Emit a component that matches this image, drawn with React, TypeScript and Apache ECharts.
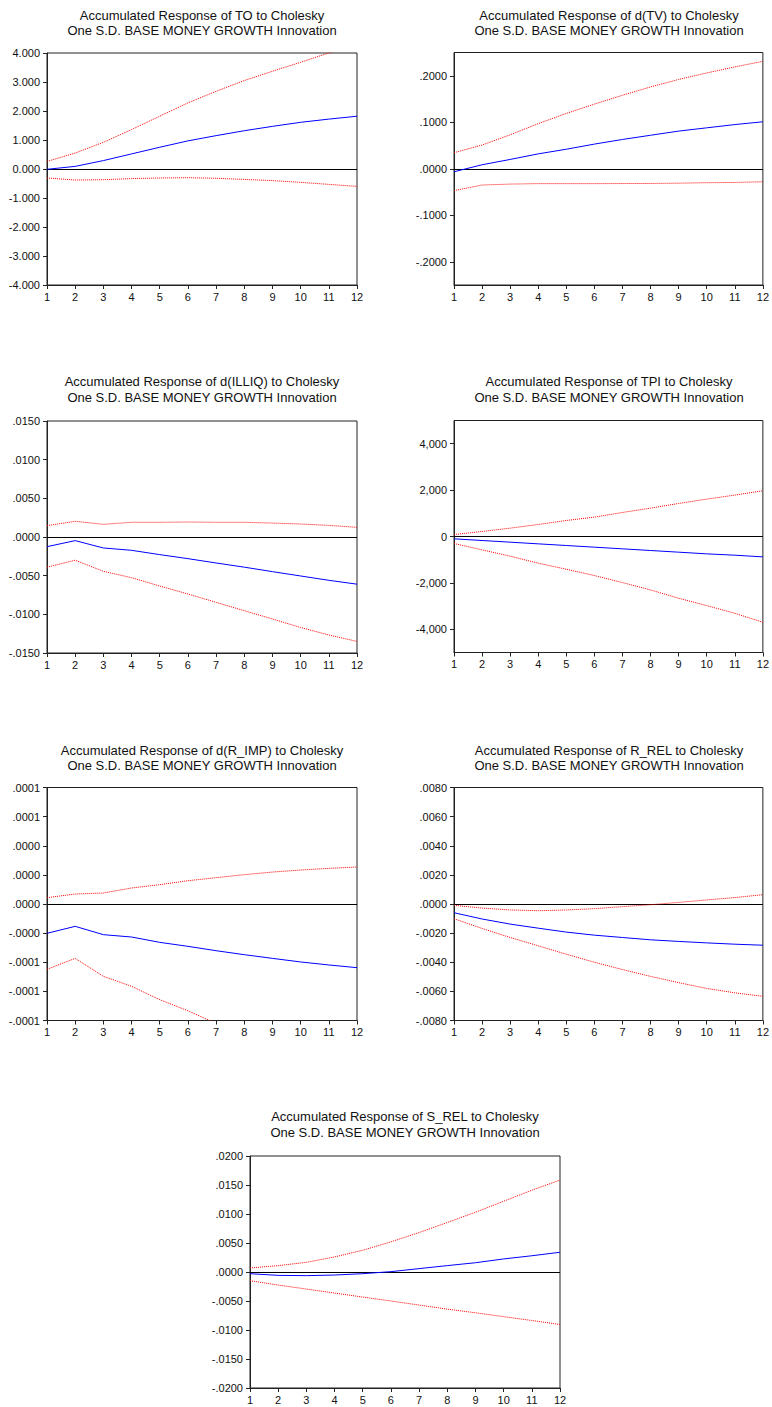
import React, { useEffect, useRef } from "react";
import * as echarts from "echarts";

const periods = [1, 2, 3, 4, 5, 6, 7, 8, 9, 10, 11, 12];

const titles = [
  "Accumulated Response of TO to Cholesky\nOne S.D. BASE MONEY GROWTH Innovation",
  "Accumulated Response of d(TV) to Cholesky\nOne S.D. BASE MONEY GROWTH Innovation",
  "Accumulated Response of d(ILLIQ) to Cholesky\nOne S.D. BASE MONEY GROWTH Innovation",
  "Accumulated Response of TPI to Cholesky\nOne S.D. BASE MONEY GROWTH Innovation",
  "Accumulated Response of d(R_IMP) to Cholesky\nOne S.D. BASE MONEY GROWTH Innovation",
  "Accumulated Response of R_REL to Cholesky\nOne S.D. BASE MONEY GROWTH Innovation",
  "Accumulated Response of S_REL to Cholesky\nOne S.D. BASE MONEY GROWTH Innovation",
];

// Panel 1: TO
const toResp = [-0.01, 0.09, 0.29, 0.52, 0.75, 0.97, 1.15, 1.32, 1.47, 1.61, 1.72, 1.82];
const toUpper = [0.26, 0.55, 0.92, 1.36, 1.82, 2.28, 2.68, 3.05, 3.37, 3.68, 4.0, 4.28];
const toLower = [-0.31, -0.38, -0.37, -0.33, -0.31, -0.3, -0.32, -0.36, -0.4, -0.46, -0.53, -0.6];
const toTicks = [-4, -3, -2, -1, 0, 1, 2, 3, 4];
const toLabels = ["-4.000", "-3.000", "-2.000", "-1.000", "0.000", "1.000", "2.000", "3.000", "4.000"];

// Panel 2: d(TV)
const tvResp = [-0.0065, 0.0086, 0.02, 0.032, 0.042, 0.053, 0.063, 0.072, 0.081, 0.088, 0.095, 0.101];
const tvUpper = [0.0345, 0.051, 0.073, 0.097, 0.119, 0.139, 0.158, 0.176, 0.192, 0.206, 0.219, 0.231];
const tvLower = [-0.047, -0.035, -0.033, -0.032, -0.032, -0.032, -0.0318, -0.0317, -0.031, -0.03, -0.0295, -0.028];
const tvTicks = [-0.2, -0.1, 0, 0.1, 0.2];
const tvLabels = ["-.2000", "-.1000", ".0000", ".1000", ".2000"];

// Panel 3: d(ILLIQ)
const illiqResp = [-0.00125, -0.00047, -0.00142, -0.00172, -0.00228, -0.0028, -0.00336, -0.0039, -0.00448, -0.00504, -0.0056, -0.0061];
const illiqUpper = [0.00147, 0.00203, 0.00164, 0.0019, 0.0019, 0.00194, 0.0019, 0.0019, 0.0018, 0.00168, 0.0015, 0.00125];
const illiqLower = [-0.0039, -0.003, -0.00444, -0.00526, -0.00634, -0.00737, -0.00845, -0.00953, -0.0106, -0.0117, -0.01267, -0.0135];
const illiqTicks = [-0.015, -0.01, -0.005, 0, 0.005, 0.01, 0.015];
const illiqLabels = ["-.0150", "-.0100", "-.0050", ".0000", ".0050", ".0100", ".0150"];

// Panel 4: TPI
const tpiResp = [-100, -173, -245, -317, -388, -460, -532, -604, -676, -748, -806, -878];
const tpiUpper = [86, 216, 360, 518, 690, 835, 1036, 1223, 1424, 1611, 1784, 1971];
const tpiLower = [-302, -575, -849, -1151, -1410, -1683, -1986, -2302, -2662, -2978, -3309, -3698];
const tpiTicks = [-4000, -2000, 0, 2000, 4000];
const tpiLabels = ["-4,000", "-2,000", "0", "2,000", "4,000"];

// Panel 5: d(R_IMP)
const rimpResp = [-0.0000302, -0.000023, -0.0000316, -0.000034, -0.0000395, -0.0000436, -0.0000481, -0.0000522, -0.000056, -0.0000597, -0.0000628, -0.0000656];
const rimpUpper = [0.0000065, 0.0000103, 0.0000113, 0.0000165, 0.0000199, 0.000024, 0.0000271, 0.0000302, 0.0000329, 0.000035, 0.0000367, 0.0000381];
const rimpLower = [-0.0000673, -0.000056, -0.0000745, -0.0000848, -0.0000985, -0.00011, -0.000123, -0.000136, -0.000147, -0.000159, -0.000168, -0.00018];
const rimpTicks = [-0.00012, -0.00009, -0.00006, -0.00003, 0, 0.00003, 0.00006, 0.00009, 0.00012];
const rimpLabels = ["-.0001", "-.0001", "-.0001", "-.0000", ".0000", ".0000", ".0000", ".0001", ".0001"];

// Panel 6: R_REL
const rrelResp = [-0.0006, -0.00103, -0.00138, -0.00166, -0.00193, -0.00214, -0.0023, -0.00246, -0.00257, -0.00267, -0.00276, -0.00283];
const rrelUpper = [-0.00009, -0.00028, -0.00041, -0.00046, -0.00041, -0.00032, -0.00018, -0.00005, 0.00011, 0.00028, 0.00044, 0.00064];
const rrelLower = [-0.00101, -0.00168, -0.0023, -0.00287, -0.00345, -0.004, -0.0045, -0.00497, -0.0054, -0.0058, -0.0061, -0.00634];
const rrelTicks = [-0.008, -0.006, -0.004, -0.002, 0, 0.002, 0.004, 0.006, 0.008];
const rrelLabels = ["-.0080", "-.0060", "-.0040", "-.0020", ".0000", ".0020", ".0040", ".0060", ".0080"];

// Panel 7: S_REL
const srelResp = [-0.00029, -0.00058, -0.00063, -0.00052, -0.00029, 0.00006, 0.00058, 0.0011, 0.0016, 0.00225, 0.0028, 0.0034];
const srelUpper = [0.00069, 0.0011, 0.00167, 0.0026, 0.00375, 0.0052, 0.0068, 0.00853, 0.0103, 0.0122, 0.0141, 0.01585];
const srelLower = [-0.0015, -0.00225, -0.00294, -0.00363, -0.00432, -0.005, -0.0057, -0.0064, -0.00703, -0.0077, -0.00836, -0.00905];
const srelTicks = [-0.02, -0.015, -0.01, -0.005, 0, 0.005, 0.01, 0.015, 0.02];
const srelLabels = ["-.0200", "-.0150", "-.0100", "-.0050", ".0000", ".0050", ".0100", ".0150", ".0200"];

const panels = [
  { resp: toResp, up: toUpper, lo: toLower, ticks: toTicks, labels: toLabels, min: -4, max: 4 },
  { resp: tvResp, up: tvUpper, lo: tvLower, ticks: tvTicks, labels: tvLabels, min: -0.25, max: 0.25 },
  { resp: illiqResp, up: illiqUpper, lo: illiqLower, ticks: illiqTicks, labels: illiqLabels, min: -0.015, max: 0.015 },
  { resp: tpiResp, up: tpiUpper, lo: tpiLower, ticks: tpiTicks, labels: tpiLabels, min: -5000, max: 5000 },
  { resp: rimpResp, up: rimpUpper, lo: rimpLower, ticks: rimpTicks, labels: rimpLabels, min: -0.00012, max: 0.00012 },
  { resp: rrelResp, up: rrelUpper, lo: rrelLower, ticks: rrelTicks, labels: rrelLabels, min: -0.008, max: 0.008 },
  { resp: srelResp, up: srelUpper, lo: srelLower, ticks: srelTicks, labels: srelLabels, min: -0.02, max: 0.02 },
];

const layout = [
  { left: 47, top: 53, width: 310, height: 232, titleTop: 7.5 },
  { left: 454, top: 52.5, width: 310, height: 232.5, titleTop: 7.5 },
  { left: 47, top: 421, width: 310, height: 232, titleTop: 374 },
  { left: 454, top: 420.5, width: 310, height: 232, titleTop: 374 },
  { left: 47, top: 787.5, width: 310, height: 233, titleTop: 742.5 },
  { left: 454, top: 787.5, width: 310, height: 233, titleTop: 742.5 },
  { left: 250, top: 1156, width: 310, height: 232, titleTop: 1109 },
];

const FONT = "'Liberation Sans', Arial, Helvetica, sans-serif";

export default function App() {
  const ref = useRef<HTMLDivElement>(null);
  useEffect(() => {
    document.body.style.margin = "0";
    if (!ref.current) return;
    const chart = echarts.init(ref.current, null, { renderer: "svg" });
    const axisColor = "#222";
    const option: any = {
      animation: false,
      backgroundColor: "#fff",
      textStyle: { fontFamily: FONT },
      title: panels.map((_, i) => ({
        text: titles[i],
        left: layout[i].left + layout[i].width / 2,
        top: layout[i].titleTop,
        textAlign: "center",
        padding: 0,
        textStyle: { fontSize: 13, fontWeight: "normal", color: "#111", lineHeight: 15.5, fontFamily: FONT },
      })),
      grid: layout.map((l) => ({
        left: l.left,
        top: l.top,
        width: l.width,
        height: l.height,
        show: true,
        borderColor: axisColor,
        borderWidth: 1,
        backgroundColor: "transparent",
        containLabel: false,
      })),
      xAxis: panels.map((_, i) => ({
        type: "value",
        gridIndex: i,
        min: 1,
        max: 12,
        interval: 1,
        axisLine: { show: true, onZero: false, lineStyle: { color: axisColor, width: 1 } },
        axisTick: { show: true, inside: false, length: 4, lineStyle: { color: axisColor } },
        axisLabel: { show: true, margin: 6, fontSize: 11, color: "#111", fontFamily: FONT, showMinLabel: true, showMaxLabel: true },
        splitLine: { show: false },
      })),
      yAxis: panels.map((p, i) => ({
        type: "value",
        gridIndex: i,
        min: p.min,
        max: p.max,
        axisLine: { show: true, lineStyle: { color: axisColor, width: 1 } },
        axisTick: { show: true, inside: false, length: 4, customValues: p.ticks, lineStyle: { color: axisColor } },
        axisLabel: {
          show: true,
          margin: 7,
          fontSize: 11,
          color: "#111",
          fontFamily: FONT,
          customValues: p.ticks,
          formatter: (v: number) => {
            const idx = p.ticks.findIndex((t) => Math.abs(t - v) < (p.max - p.min) * 1e-6);
            return idx >= 0 ? p.labels[idx] : "";
          },
        },
        splitLine: { show: false },
      })),
      series: panels.flatMap((p, i) => [
        {
          type: "line",
          xAxisIndex: i,
          yAxisIndex: i,
          data: periods.map((x, k) => [x, p.up[k]]),
          symbol: "none",
          lineStyle: { color: "#ff0000", width: 1, type: "dotted" },
          clip: true,
          silent: true,
          z: 3,
        },
        {
          type: "line",
          xAxisIndex: i,
          yAxisIndex: i,
          data: periods.map((x, k) => [x, p.lo[k]]),
          symbol: "none",
          lineStyle: { color: "#ff0000", width: 1, type: "dotted" },
          clip: true,
          silent: true,
          z: 3,
        },
        {
          type: "line",
          xAxisIndex: i,
          yAxisIndex: i,
          data: periods.map((x, k) => [x, p.resp[k]]),
          symbol: "none",
          lineStyle: { color: "#0000ff", width: 1 },
          clip: true,
          silent: true,
          z: 4,
          markLine: {
            silent: true,
            symbol: "none",
            label: { show: false },
            lineStyle: { color: "#000", width: 1, type: "solid" },
            data: [{ yAxis: 0 }],
            z: 2,
          },
        },
      ]),
    };
    chart.setOption(option);
    return () => chart.dispose();
  }, []);
  return <div ref={ref} style={{ width: 772, height: 1407, position: "absolute", left: 0, top: 0 }} />;
}
